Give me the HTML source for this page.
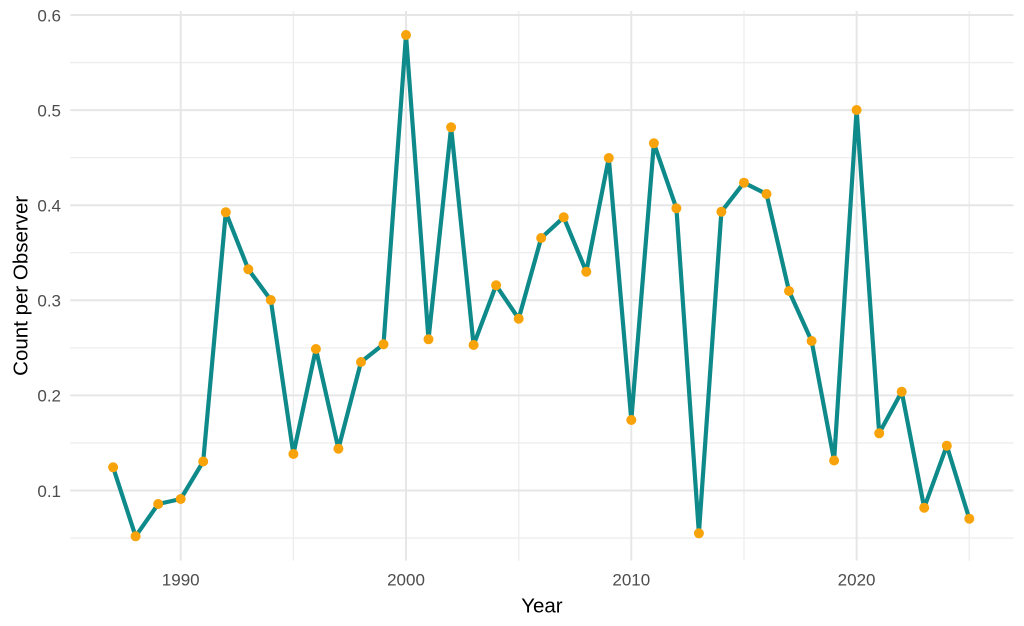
<!DOCTYPE html>
<html>
<head>
<meta charset="utf-8">
<style>
html,body{margin:0;padding:0;background:#fff;}
svg{display:block;}
text{font-family:"Liberation Sans",Arial,sans-serif;}
</style>
</head>
<body>
<svg width="1024" height="626" viewBox="0 0 1024 626" xmlns="http://www.w3.org/2000/svg">
<rect width="1024" height="626" fill="#fff"/>
<!-- minor gridlines -->
<g stroke="#ededed" stroke-width="1.3">
<line x1="70.3" x2="1013.5" y1="538.05" y2="538.05"/>
<line x1="70.3" x2="1013.5" y1="442.95" y2="442.95"/>
<line x1="70.3" x2="1013.5" y1="347.85" y2="347.85"/>
<line x1="70.3" x2="1013.5" y1="252.75" y2="252.75"/>
<line x1="70.3" x2="1013.5" y1="157.65" y2="157.65"/>
<line x1="70.3" x2="1013.5" y1="62.55" y2="62.55"/>
<line y1="11" y2="560.6" x1="293.4" x2="293.4"/>
<line y1="11" y2="560.6" x1="518.7" x2="518.7"/>
<line y1="11" y2="560.6" x1="744.0" x2="744.0"/>
<line y1="11" y2="560.6" x1="969.3" x2="969.3"/>
</g>
<!-- major gridlines -->
<g stroke="#e6e6e6" stroke-width="2">
<line x1="70.3" x2="1013.5" y1="490.5" y2="490.5"/>
<line x1="70.3" x2="1013.5" y1="395.4" y2="395.4"/>
<line x1="70.3" x2="1013.5" y1="300.3" y2="300.3"/>
<line x1="70.3" x2="1013.5" y1="205.2" y2="205.2"/>
<line x1="70.3" x2="1013.5" y1="110.1" y2="110.1"/>
<line x1="70.3" x2="1013.5" y1="15" y2="15"/>
<line y1="11" y2="560.6" x1="180.7" x2="180.7"/>
<line y1="11" y2="560.6" x1="406.0" x2="406.0"/>
<line y1="11" y2="560.6" x1="631.3" x2="631.3"/>
<line y1="11" y2="560.6" x1="856.6" x2="856.6"/>
</g>
<!-- y tick labels -->
<g fill="#4d4d4d" font-size="17" text-anchor="end">
<text x="61" y="496.8">0.1</text>
<text x="61" y="401.7">0.2</text>
<text x="61" y="306.6">0.3</text>
<text x="61" y="211.5">0.4</text>
<text x="61" y="116.4">0.5</text>
<text x="61" y="21.3">0.6</text>
</g>
<!-- x tick labels -->
<g fill="#4d4d4d" font-size="17" text-anchor="middle">
<text x="180.7" y="585.7">1990</text>
<text x="406.0" y="585.7">2000</text>
<text x="631.3" y="585.7">2010</text>
<text x="856.6" y="585.7">2020</text>
</g>
<!-- axis titles -->
<text x="541.9" y="612.3" font-size="20.5" text-anchor="middle" fill="#000">Year</text>
<text transform="translate(27.3,285.8) rotate(-90)" font-size="20.5" text-anchor="middle" fill="#000">Count per Observer</text>
<!-- series line -->
<polyline fill="none" stroke="#0f8a8a" stroke-width="4.2" stroke-linejoin="round" stroke-linecap="butt"
points="113.1,467.3 135.6,536.3 158.2,504 180.7,499 203.2,461.5 225.8,212.3 248.3,269.3 270.8,300 293.4,454 315.9,349 338.4,448.7 361.0,362 383.5,344.3 406.0,35 428.5,339.3 451.1,127.3 473.6,345 496.1,285.3 518.7,318.7 541.2,238 563.7,217.3 586.3,271.7 608.8,158 631.3,420 653.9,143.3 676.4,208.3 698.9,533.3 721.4,211.7 744.0,182.7 766.5,194 789.0,291 811.6,341 834.1,460.5 856.6,110 879.2,433.3 901.7,391.7 924.2,507.7 946.8,445.7 969.3,518.7"/>
<!-- points -->
<g fill="#f8a30a">
<circle cx="113.1" cy="467.3" r="5"/>
<circle cx="135.6" cy="536.3" r="5"/>
<circle cx="158.2" cy="504" r="5"/>
<circle cx="180.7" cy="499" r="5"/>
<circle cx="203.2" cy="461.5" r="5"/>
<circle cx="225.8" cy="212.3" r="5"/>
<circle cx="248.3" cy="269.3" r="5"/>
<circle cx="270.8" cy="300" r="5"/>
<circle cx="293.4" cy="454" r="5"/>
<circle cx="315.9" cy="349" r="5"/>
<circle cx="338.4" cy="448.7" r="5"/>
<circle cx="361.0" cy="362" r="5"/>
<circle cx="383.5" cy="344.3" r="5"/>
<circle cx="406.0" cy="35" r="5"/>
<circle cx="428.5" cy="339.3" r="5"/>
<circle cx="451.1" cy="127.3" r="5"/>
<circle cx="473.6" cy="345" r="5"/>
<circle cx="496.1" cy="285.3" r="5"/>
<circle cx="518.7" cy="318.7" r="5"/>
<circle cx="541.2" cy="238" r="5"/>
<circle cx="563.7" cy="217.3" r="5"/>
<circle cx="586.3" cy="271.7" r="5"/>
<circle cx="608.8" cy="158" r="5"/>
<circle cx="631.3" cy="420" r="5"/>
<circle cx="653.9" cy="143.3" r="5"/>
<circle cx="676.4" cy="208.3" r="5"/>
<circle cx="698.9" cy="533.3" r="5"/>
<circle cx="721.4" cy="211.7" r="5"/>
<circle cx="744.0" cy="182.7" r="5"/>
<circle cx="766.5" cy="194" r="5"/>
<circle cx="789.0" cy="291" r="5"/>
<circle cx="811.6" cy="341" r="5"/>
<circle cx="834.1" cy="460.5" r="5"/>
<circle cx="856.6" cy="110" r="5"/>
<circle cx="879.2" cy="433.3" r="5"/>
<circle cx="901.7" cy="391.7" r="5"/>
<circle cx="924.2" cy="507.7" r="5"/>
<circle cx="946.8" cy="445.7" r="5"/>
<circle cx="969.3" cy="518.7" r="5"/>
</g>
</svg>
</body>
</html>
